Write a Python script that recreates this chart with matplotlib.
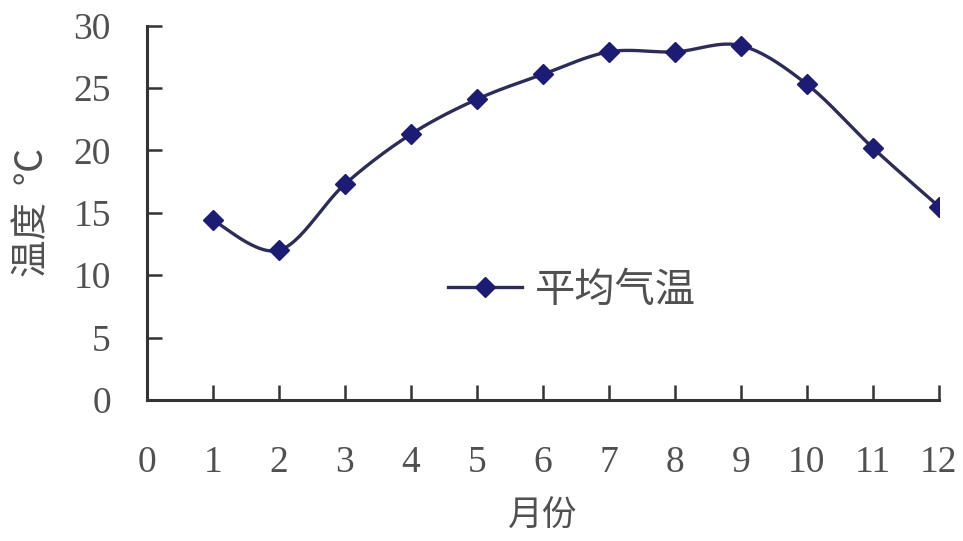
import numpy as np
import matplotlib
matplotlib.use("Agg")
import matplotlib.pyplot as plt
from matplotlib.lines import Line2D

months = [1, 2, 3, 4, 5, 6, 7, 8, 9, 10, 11, 12]
temps = [14.4, 12.0, 17.3, 21.3, 24.1, 26.1, 27.9, 27.9, 28.4, 25.3, 20.2, 15.5]
xticks = list(range(0, 13))
yticks = [0, 5, 10, 15, 20, 25, 30]
series_name = "平均气温"
xlabel = "月份"
ylabel = "温度  ℃"

NUM_FONT = ['Liberation Serif', 'Noto Sans CJK SC', 'DejaVu Sans']
CJK_FONT = ['Noto Sans CJK SC', 'DejaVu Sans']
plt.rcParams['font.family'] = NUM_FONT

line_c = '#2c2c58'
mark_c = '#1c1c74'
text_c = '#505050'
axis_c = '#333333'


def smooth(x, y, n=30):
    # Catmull-Rom style smoothing through the data points (line rendering only)
    x = np.asarray(x, float); y = np.asarray(y, float)
    px = np.concatenate([[x[0]], x, [x[-1]]])
    py = np.concatenate([[y[0]], y, [y[-1]]])
    xs, ys = [], []
    t = np.linspace(0, 1, n)
    for i in range(1, len(px) - 2):
        p0 = np.array([px[i - 1], py[i - 1]]); p1 = np.array([px[i], py[i]])
        p2 = np.array([px[i + 1], py[i + 1]]); p3 = np.array([px[i + 2], py[i + 2]])
        c1 = p1 + (p2 - p0) / 6.0
        c2 = p2 - (p3 - p1) / 6.0
        b = ((1 - t) ** 3)[:, None] * p1 + (3 * (1 - t) ** 2 * t)[:, None] * c1 \
            + (3 * (1 - t) * t ** 2)[:, None] * c2 + (t ** 3)[:, None] * p2
        xs.append(b[:, 0]); ys.append(b[:, 1])
    return np.concatenate(xs), np.concatenate(ys)


fig = plt.figure(figsize=(9.63, 5.41), dpi=100)
ax = fig.add_axes([0.1526, 0.2606, 0.8224, 0.692])

sx, sy = smooth(months, temps)
ax.plot(sx, sy, color=line_c, lw=2.4, zorder=2)
ax.plot(months, temps, linestyle='none', marker='D', markersize=10,
        color=mark_c, zorder=3)

ax.set_xlim(0, 12)
ax.set_ylim(0, 30)
ax.set_xticks(xticks)
ax.set_yticks(yticks)
ax.set_xticklabels([str(v) for v in xticks])
ax.set_yticklabels([str(v) for v in yticks])

for s in ['top', 'right']:
    ax.spines[s].set_visible(False)
for s in ['left', 'bottom']:
    ax.spines[s].set_color(axis_c)
    ax.spines[s].set_linewidth(2.2)

ax.tick_params(axis='both', direction='in', length=11, width=1.8,
               color=axis_c, labelsize=27, labelcolor=text_c)
ax.tick_params(axis='x', pad=33)
ax.tick_params(axis='y', pad=26)
# the x tick at 0 is hidden behind the spine in the reference
ax.xaxis.get_major_ticks()[0].tick1line.set_visible(False)

ax.set_xlabel(xlabel, fontsize=25, color=text_c, family=CJK_FONT)
ax.xaxis.set_label_coords(0.5, -0.31)
ax.xaxis.label.set_va('center')
ax.set_ylabel(ylabel, fontsize=27, color=text_c, family=CJK_FONT)
ax.yaxis.set_label_coords(-0.12, 0.5)

handle = Line2D([0], [0], color=line_c, lw=2.4, marker='D', markersize=10,
                markerfacecolor=mark_c, markeredgecolor=mark_c)
leg = ax.legend([handle], [series_name], loc='center left',
                bbox_to_anchor=(0.38, 0.294), frameon=False,
                handlelength=1.85, handletextpad=0.3, borderpad=0,
                borderaxespad=0, prop={'family': CJK_FONT, 'size': 29})
for t in leg.get_texts():
    t.set_color(text_c)

fig.savefig('out.png', dpi=100, facecolor='white')
